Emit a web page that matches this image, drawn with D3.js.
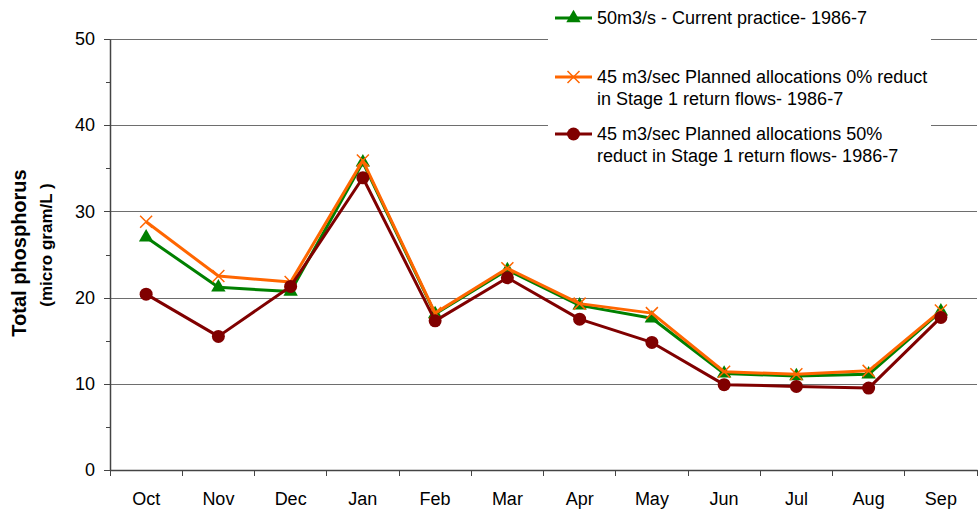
<!DOCTYPE html>
<html>
<head>
<meta charset="utf-8">
<script src="https://cdn.jsdelivr.net/npm/d3@7"></script>
<style>
  body { margin: 0; background: #fff; }
  text { font-family: Arial, "Liberation Sans", sans-serif; }
</style>
</head>
<body>
<div id="chart"></div>
<script>
// months along the x axis
const months = ["Oct", "Nov", "Dec", "Jan", "Feb", "Mar", "Apr", "May", "Jun", "Jul", "Aug", "Sep"];

// total phosphorus (micro gram/L)
const current50 = [27.0, 21.2, 20.7, 35.7, 18.1, 23.2, 19.1, 17.6, 11.2, 10.9, 11.1, 18.4];
const planned0 = [28.8, 22.5, 21.8, 35.9, 18.2, 23.4, 19.3, 18.2, 11.4, 11.1, 11.5, 18.5];
const planned50 = [20.4, 15.5, 21.3, 33.9, 17.3, 22.3, 17.5, 14.8, 9.9, 9.7, 9.5, 17.7];

const yTicks = [0, 10, 20, 30, 40, 50];
const yMinorTicks = [5, 15, 25, 35, 45];

const seriesNames = [
  ["50m3/s - Current practice- 1986-7"],
  ["45 m3/sec Planned allocations 0% reduct", "in Stage 1 return flows- 1986-7"],
  ["45 m3/sec Planned allocations 50%", "reduct in Stage 1 return flows- 1986-7"]
];

const W = 978, H = 513;
const margin = { top: 39, right: 1, bottom: 43, left: 110 };
const width = W - margin.left - margin.right,
  height = H - margin.top - margin.bottom;

const svg = d3.select("#chart")
  .append("svg")
  .attr("width", W)
  .attr("height", H);

const g = svg.append("g")
  .attr("transform", `translate(${margin.left},${margin.top})`);

const xScale = d3.scaleBand()
  .domain(months)
  .range([0, width]);

const yScale = d3.scaleLinear()
  .domain([0, 50])
  .range([height, 0]);

// horizontal grid lines
g.append("g")
  .attr("class", "grid")
  .call(d3.axisLeft(yScale)
    .tickValues(yTicks.filter(d => d > 0))
    .tickSize(-width)
    .tickFormat(""))
  .call(s => s.select(".domain").remove())
  .selectAll("line")
  .attr("stroke", "#6e6e6e")
  .attr("shape-rendering", "crispEdges");

// minor y ticks
g.append("g")
  .call(d3.axisLeft(yScale)
    .tickValues(yMinorTicks)
    .tickSize(4)
    .tickFormat(""))
  .call(s => s.select(".domain").remove())
  .selectAll("line")
  .attr("stroke", "#444")
  .attr("shape-rendering", "crispEdges");

// y axis
const yAxis = g.append("g")
  .attr("class", "y-axis")
  .call(d3.axisLeft(yScale)
    .tickValues(yTicks)
    .tickSize(6)
    .tickSizeOuter(0)
    .tickPadding(9));
yAxis.select(".domain").attr("stroke", "#444").attr("stroke-width", 1.5);
yAxis.selectAll("line").attr("stroke", "#444").attr("shape-rendering", "crispEdges");
yAxis.selectAll("text")
  .style("font-size", "18px")
  .attr("fill", "#000");

// x axis, ticks on category boundaries
const xAxis = g.append("g")
  .attr("class", "x-axis")
  .attr("transform", `translate(0,${height})`)
  .call(d3.axisBottom(xScale).tickSize(0).tickPadding(22));
xAxis.select(".domain").attr("stroke", "#444").attr("stroke-width", 1.5);
xAxis.selectAll("text")
  .style("font-size", "18px")
  .attr("fill", "#000");

xAxis.selectAll(".bound")
  .data(d3.range(months.length + 1))
  .enter().append("line")
  .attr("class", "bound")
  .attr("x1", i => i * xScale.step())
  .attr("x2", i => i * xScale.step())
  .attr("y1", 0)
  .attr("y2", 6)
  .attr("stroke", "#444")
  .attr("shape-rendering", "crispEdges");

// y axis title
svg.append("text")
  .attr("transform", "translate(26,253) rotate(-90)")
  .attr("text-anchor", "middle")
  .style("font-size", "20px")
  .style("font-weight", "bold")
  .text("Total phosphorus");

svg.append("text")
  .attr("transform", "translate(52,245) rotate(-90)")
  .attr("text-anchor", "middle")
  .style("font-size", "17px")
  .style("font-weight", "bold")
  .text("(micro gram/L )");

// series
const series = [
  { values: current50, color: "#008000", marker: "triangle" },
  { values: planned0, color: "#ff6600", marker: "cross" },
  { values: planned50, color: "#800000", marker: "circle" }
];

const cx = i => xScale(months[i]) + xScale.bandwidth() / 2;

const line = d3.line()
  .x((d, i) => cx(i))
  .y(d => yScale(d));

function drawMarker(sel, type, color) {
  if (type === "triangle") {
    sel.append("path")
      .attr("d", d3.symbol(d3.symbolTriangle, 90))
      .attr("fill", color);
  } else if (type === "circle") {
    sel.append("circle")
      .attr("r", 6.5)
      .attr("fill", color);
  } else {
    sel.append("path")
      .attr("d", "M-6,-6L6,6M-6,6L6,-6")
      .attr("stroke", color)
      .attr("stroke-width", 1.5)
      .attr("fill", "none");
  }
}

series.forEach(s => {
  g.append("path")
    .datum(s.values)
    .attr("fill", "none")
    .attr("stroke", s.color)
    .attr("stroke-width", 3)
    .attr("stroke-linejoin", "round")
    .attr("d", line);

  const pts = g.selectAll(null)
    .data(s.values)
    .enter().append("g")
    .attr("transform", (d, i) => `translate(${cx(i)},${yScale(d)})`);
  drawMarker(pts, s.marker, s.color);
});

// legend
const legend = svg.append("g");
legend.append("rect")
  .attr("x", 548)
  .attr("y", 0)
  .attr("width", 383)
  .attr("height", 188)
  .attr("fill", "#fff");

const legendRows = [18, 77, 134];
seriesNames.forEach((lines, k) => {
  const item = legend.append("g")
    .attr("transform", `translate(555,${legendRows[k]})`);
  item.append("line")
    .attr("x1", 0).attr("x2", 37)
    .attr("stroke", series[k].color)
    .attr("stroke-width", 3);
  const m = item.append("g").attr("transform", "translate(18.5,0)");
  drawMarker(m, series[k].marker, series[k].color);
  lines.forEach((t, j) => {
    item.append("text")
      .attr("x", 42)
      .attr("y", j * 22)
      .attr("dy", "0.35em")
      .style("font-size", "18px")
      .text(t);
  });
});
</script>
</body>
</html>
